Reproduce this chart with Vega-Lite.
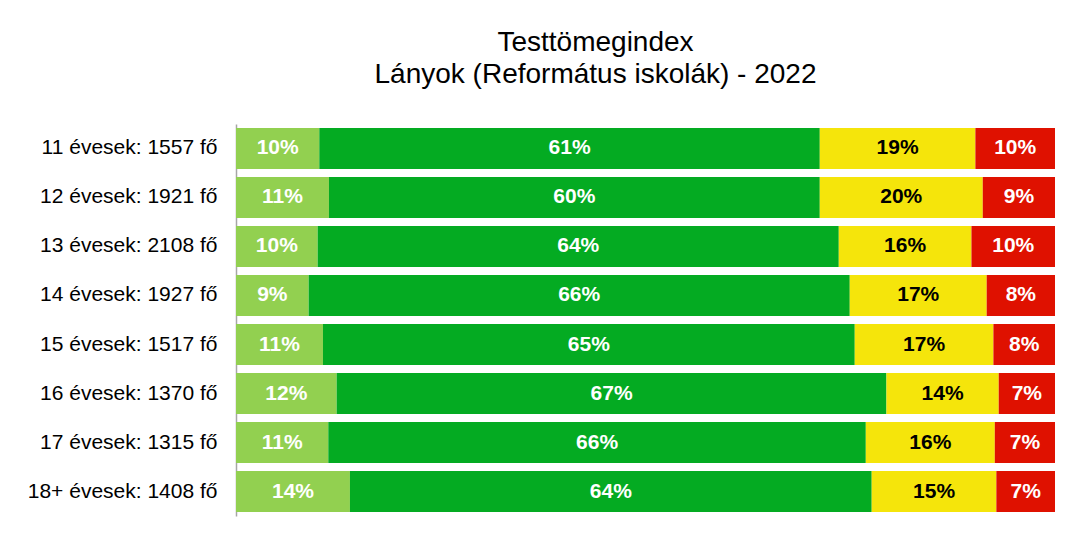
{
  "$schema": "https://vega.github.io/schema/vega-lite/v6.json",
  "width": 819,
  "height": 392,
  "autosize": {"type": "none"},
  "padding": {"left": 236, "top": 124, "right": 16, "bottom": 22},
  "background": "white",
  "config": {"view": {"stroke": null}, "font": "Liberation Sans"},
  "title": {
    "text": ["Testtömegindex", "Lányok (Református iskolák) - 2022"],
    "fontSize": 28,
    "fontWeight": "normal",
    "color": "black",
    "anchor": "middle",
    "dx": -50,
    "offset": 35,
    "lineHeight": 32,
    "font": "Liberation Sans"
  },
  "data": {
    "values": [
      {"group": "11 évesek: 1557 fő", "cat": "Sovány", "order": 1, "value": 0.1017},
      {"group": "11 évesek: 1557 fő", "cat": "Normál", "order": 2, "value": 0.6111},
      {"group": "11 évesek: 1557 fő", "cat": "Túlsúlyos", "order": 3, "value": 0.1900},
      {"group": "11 évesek: 1557 fő", "cat": "Elhízott", "order": 4, "value": 0.0972},
      {"group": "12 évesek: 1921 fő", "cat": "Sovány", "order": 1, "value": 0.1135},
      {"group": "12 évesek: 1921 fő", "cat": "Normál", "order": 2, "value": 0.5993},
      {"group": "12 évesek: 1921 fő", "cat": "Túlsúlyos", "order": 3, "value": 0.1990},
      {"group": "12 évesek: 1921 fő", "cat": "Elhízott", "order": 4, "value": 0.0882},
      {"group": "13 évesek: 2108 fő", "cat": "Sovány", "order": 1, "value": 0.0997},
      {"group": "13 évesek: 2108 fő", "cat": "Normál", "order": 2, "value": 0.6363},
      {"group": "13 évesek: 2108 fő", "cat": "Túlsúlyos", "order": 3, "value": 0.1620},
      {"group": "13 évesek: 2108 fő", "cat": "Elhízott", "order": 4, "value": 0.1020},
      {"group": "14 évesek: 1927 fő", "cat": "Sovány", "order": 1, "value": 0.0887},
      {"group": "14 évesek: 1927 fő", "cat": "Normál", "order": 2, "value": 0.6607},
      {"group": "14 évesek: 1927 fő", "cat": "Túlsúlyos", "order": 3, "value": 0.1672},
      {"group": "14 évesek: 1927 fő", "cat": "Elhízott", "order": 4, "value": 0.0834},
      {"group": "15 évesek: 1517 fő", "cat": "Sovány", "order": 1, "value": 0.1062},
      {"group": "15 évesek: 1517 fő", "cat": "Normál", "order": 2, "value": 0.6493},
      {"group": "15 évesek: 1517 fő", "cat": "Túlsúlyos", "order": 3, "value": 0.1693},
      {"group": "15 évesek: 1517 fő", "cat": "Elhízott", "order": 4, "value": 0.0752},
      {"group": "16 évesek: 1370 fő", "cat": "Sovány", "order": 1, "value": 0.1229},
      {"group": "16 évesek: 1370 fő", "cat": "Normál", "order": 2, "value": 0.6713},
      {"group": "16 évesek: 1370 fő", "cat": "Túlsúlyos", "order": 3, "value": 0.1371},
      {"group": "16 évesek: 1370 fő", "cat": "Elhízott", "order": 4, "value": 0.0687},
      {"group": "17 évesek: 1315 fő", "cat": "Sovány", "order": 1, "value": 0.1127},
      {"group": "17 évesek: 1315 fő", "cat": "Normál", "order": 2, "value": 0.6563},
      {"group": "17 évesek: 1315 fő", "cat": "Túlsúlyos", "order": 3, "value": 0.1575},
      {"group": "17 évesek: 1315 fő", "cat": "Elhízott", "order": 4, "value": 0.0735},
      {"group": "18+ évesek: 1408 fő", "cat": "Sovány", "order": 1, "value": 0.1391},
      {"group": "18+ évesek: 1408 fő", "cat": "Normál", "order": 2, "value": 0.6371},
      {"group": "18+ évesek: 1408 fő", "cat": "Túlsúlyos", "order": 3, "value": 0.1522},
      {"group": "18+ évesek: 1408 fő", "cat": "Elhízott", "order": 4, "value": 0.0716}
    ]
  },
  "transform": [
    {"stack": "value", "groupby": ["group"], "sort": [{"field": "order", "order": "ascending"}], "as": ["start", "end"]},
    {"calculate": "(datum.start + datum.end) / 2", "as": "mid"}
  ],
  "encoding": {
    "y": {
      "field": "group",
      "type": "nominal",
      "sort": null,
      "scale": {"paddingInner": 0.163, "paddingOuter": 0.08},
      "axis": {
        "title": null,
        "ticks": false,
        "labelFontSize": 21,
        "labelColor": "black",
        "labelFont": "Liberation Sans",
        "labelPadding": 19,
        "labelLimit": 0,
        "domainColor": "#a6a6a6",
        "domainWidth": 1.5
      }
    }
  },
  "layer": [
    {
      "mark": {"type": "bar"},
      "encoding": {
        "x": {"field": "start", "type": "quantitative", "scale": {"domain": [0, 1], "nice": false}, "axis": null},
        "x2": {"field": "end"},
        "color": {
          "field": "cat",
          "type": "nominal",
          "scale": {"domain": ["Sovány", "Normál", "Túlsúlyos", "Elhízott"], "range": ["#92d050", "#04ab22", "#f5e50b", "#df1100"]},
          "legend": null
        }
      }
    },
    {
      "mark": {"type": "text", "fontSize": 21, "fontWeight": "bold", "font": "Liberation Sans", "align": "center", "baseline": "middle"},
      "encoding": {
        "x": {"field": "mid", "type": "quantitative"},
        "text": {"field": "value", "type": "quantitative", "format": ".0%"},
        "color": {"condition": {"test": "datum.cat === 'Túlsúlyos'", "value": "black"}, "value": "white"}
      }
    }
  ]
}
